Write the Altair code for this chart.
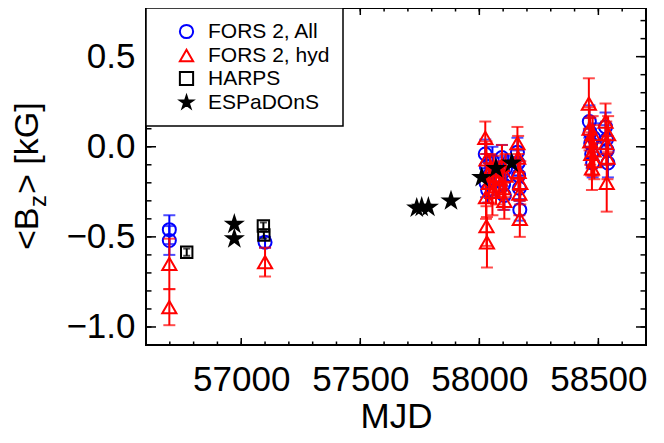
import altair as alt
import pandas as pd

# ---------------- data ----------------
fors_all_mjd = [56698, 56698, 57100,
                58025, 58030, 58028, 58035, 58040, 58055, 58060,
                58095, 58100, 58102, 58105, 58110,
                58160, 58163, 58165, 58168, 58170,
                58462, 58465, 58468, 58472, 58476, 58480,
                58530, 58534, 58537, 58540]
fors_all_bz = [-0.46, -0.52, -0.53,
               -0.04, -0.11, -0.20, -0.24, -0.16, -0.08, -0.19,
               -0.06, -0.14, -0.21, -0.27, -0.12,
               -0.03, -0.09, -0.16, -0.23, -0.35,
               0.14, 0.08, 0.02, -0.04, -0.09, 0.05,
               0.11, 0.04, -0.02, -0.09]
fors_all_err = [0.08, 0.08, 0.03,
                0.08, 0.07, 0.08, 0.07, 0.07, 0.08, 0.08,
                0.07, 0.08, 0.08, 0.08, 0.07,
                0.08, 0.07, 0.08, 0.07, 0.06,
                0.09, 0.08, 0.08, 0.08, 0.08, 0.08,
                0.08, 0.08, 0.08, 0.08]

fors_hyd_mjd = [56698, 56698, 57100,
                58025, 58030, 58028, 58030, 58032, 58040, 58045, 58055, 58060, 58070, 58085,
                58095, 58100, 58105, 58110,
                58160, 58163, 58165, 58168, 58170, 58172,
                58460, 58463, 58466, 58470, 58473, 58476, 58480, 58483,
                58530, 58533, 58535, 58538, 58541]
fors_hyd_bz = [-0.65, -0.89, -0.64,
               0.05, -0.07, -0.28, -0.44, -0.53, -0.20, -0.13, -0.25, -0.16, -0.22, -0.18,
               -0.10, -0.23, -0.30, -0.16,
               0.02, -0.06, -0.14, -0.26, -0.40, -0.20,
               0.24, 0.10, 0.03, -0.04, -0.12, 0.07, -0.02, -0.08,
               0.14, 0.02, -0.20, -0.06, 0.07]
fors_hyd_err = [0.14, 0.10, 0.08,
                0.09, 0.10, 0.12, 0.11, 0.14, 0.11, 0.09, 0.13, 0.11, 0.10, 0.10,
                0.11, 0.12, 0.10, 0.12,
                0.09, 0.12, 0.10, 0.12, 0.10, 0.12,
                0.14, 0.12, 0.13, 0.12, 0.12, 0.10, 0.14, 0.10,
                0.10, 0.12, 0.16, 0.12, 0.10]

harps_mjd = [56771, 57093, 57095]
harps_bz = [-0.585, -0.44, -0.49]
harps_err = [0.02, 0.02, 0.02]

esp_mjd = [56971, 56971, 57737, 57758, 57786, 57881, 58010, 58070, 58136]
esp_bz = [-0.43, -0.51, -0.34, -0.335, -0.335, -0.30, -0.17, -0.12, -0.09]

series_names = ["FORS 2, All", "FORS 2, hyd", "HARPS", "ESPaDOnS"]

x_major = [57000, 57500, 58000, 58500]
x_minor = list(range(56600, 58701, 100))
y_major = [-1.0, -0.5, 0.0, 0.5]
y_minor = [round(-1.1 + 0.1 * i, 1) for i in range(19)]

# ---------------- styling ----------------
FONT = "Liberation Sans"
W, H = 500, 337
X_DOMAIN = [56600, 58700]
Y_DOMAIN = [-1.1, 0.77]
STAR = ("M0,-1L0.225,-0.309L0.951,-0.309L0.363,0.118L0.588,0.809L0,0.382"
        "L-0.588,0.809L-0.363,0.118L-0.951,-0.309L-0.225,-0.309Z")
colors = ["#0000ff", "#ff0000", "#000000", "#000000"]
fills = ["transparent", "transparent", "transparent", "#000000"]
shapes = ["circle", "triangle-up", "square", STAR]


def frame(mjd, bz, err, name):
    return pd.DataFrame({
        "mjd": mjd, "bz": bz,
        "lo": [b - e for b, e in zip(bz, err)],
        "hi": [b + e for b, e in zip(bz, err)],
        "series": name,
    })


df_all = frame(fors_all_mjd, fors_all_bz, fors_all_err, series_names[0])
df_hyd = frame(fors_hyd_mjd, fors_hyd_bz, fors_hyd_err, series_names[1])
df_harps = frame(harps_mjd, harps_bz, harps_err, series_names[2])
df_esp = pd.DataFrame({"mjd": esp_mjd, "bz": esp_bz, "series": series_names[3]})

x_axis = alt.Axis(orient="bottom", values=x_major, ticks=False, domain=False, grid=False,
                  labelPadding=17, labelFont=FONT, labelFontSize=35, labelColor="black",
                  format="d", labelFlush=False, labelOverlap=False, title="MJD",
                  titleFont=FONT, titleFontSize=35, titleFontWeight="normal",
                  titleColor="black", titlePadding=2)
y_axis = alt.Axis(orient="left", values=y_major, ticks=False, domain=False, grid=False,
                  labelPadding=11, labelFont=FONT, labelFontSize=35, labelColor="black",
                  format=".1f", labelFlush=False, labelOverlap=False, title=None)


def X(field="mjd"):
    return alt.X(f"{field}:Q", scale=alt.Scale(domain=X_DOMAIN, nice=False, zero=False),
                 axis=x_axis, title="MJD")


def Y(field="bz"):
    return alt.Y(f"{field}:Q", scale=alt.Scale(domain=Y_DOMAIN, nice=False, zero=False),
                 axis=y_axis)


leg = alt.Legend(title=None, orient="top-left", offset=0, labelFont=FONT, labelFontSize=21,
                 labelColor="black", symbolSize=175, symbolStrokeWidth=2, strokeColor="black",
                 fillColor="white", padding=13, rowPadding=1, symbolOffset=17, labelOffset=11,
                 labelLimit=300)


def enc_series():
    return dict(
        shape=alt.Shape("series:N", scale=alt.Scale(domain=series_names, range=shapes), legend=leg),
        stroke=alt.Stroke("series:N", scale=alt.Scale(domain=series_names, range=colors), legend=leg),
        fill=alt.Fill("series:N", scale=alt.Scale(domain=series_names, range=fills), legend=leg),
    )


def errbars(df, color, cap):
    base = alt.Chart(df)
    rule = base.mark_rule(color=color, strokeWidth=2).encode(x=X(), y=Y("lo"), y2="hi:Q")
    lo = base.mark_tick(color=color, orient="horizontal", size=cap, thickness=2).encode(x=X(), y=Y("lo"))
    hi = base.mark_tick(color=color, orient="horizontal", size=cap, thickness=2).encode(x=X(), y=Y("hi"))
    return [rule, lo, hi]


def points(df, size):
    return alt.Chart(df).mark_point(filled=True, strokeWidth=2, size=size, opacity=1).encode(
        x=X(), y=Y(), **enc_series())


# ---------------- inward tick marks on all four sides ----------------
def xticks(values, length):
    d = pd.DataFrame({"mjd": values})
    bot = alt.Chart(d).mark_rule(color="black", strokeWidth=1.5).encode(
        x=X(), y=alt.value(H), y2=alt.value(H - length))
    top = alt.Chart(d).mark_rule(color="black", strokeWidth=1.5).encode(
        x=X(), y=alt.value(0), y2=alt.value(length))
    return [bot, top]


def yticks(values, length):
    d = pd.DataFrame({"bz": values})
    left = alt.Chart(d).mark_rule(color="black", strokeWidth=1.5).encode(
        y=Y(), x=alt.value(0), x2=alt.value(length))
    right = alt.Chart(d).mark_rule(color="black", strokeWidth=1.5).encode(
        y=Y(), x=alt.value(W), x2=alt.value(W - length))
    return [left, right]


ticks = xticks(x_minor, 3.5) + xticks(x_major, 7) + yticks(y_minor, 5.5) + yticks(y_major, 10)

# ---------------- y title: <B_z> [kG] ----------------
one = pd.DataFrame({"k": [0]})


def title_piece(txt, x, y, size):
    return alt.Chart(one).mark_text(angle=270, align="left", baseline="alphabetic", font=FONT,
                                    fontSize=size, color="black").encode(
        x=alt.value(x), y=alt.value(y), text=alt.value(txt))


title_parts = [
    title_piece("<B", -108, 242, 34),
    title_piece("z", -100, 199, 24),
    title_piece("> [kG]", -108, 186, 34),
]

layers = (errbars(df_all, colors[0], 12) + [points(df_all, 170)]
          + errbars(df_hyd, colors[1], 12) + [points(df_hyd, 200)]
          + errbars(df_harps, colors[2], 7) + [points(df_harps, 130)]
          + [points(df_esp, 250)]
          + ticks
          + title_parts)

chart = alt.layer(*layers).properties(
    width=W, height=H,
    autosize=alt.AutoSizeParams(type="none"),
    padding={"left": 138, "top": 0, "right": 10, "bottom": 90},
    background="white",
).configure_view(stroke="black", strokeWidth=2).configure_legend(strokeWidth=1.5)

chart.save("out.html", embed_options={"renderer": "svg", "actions": False})
